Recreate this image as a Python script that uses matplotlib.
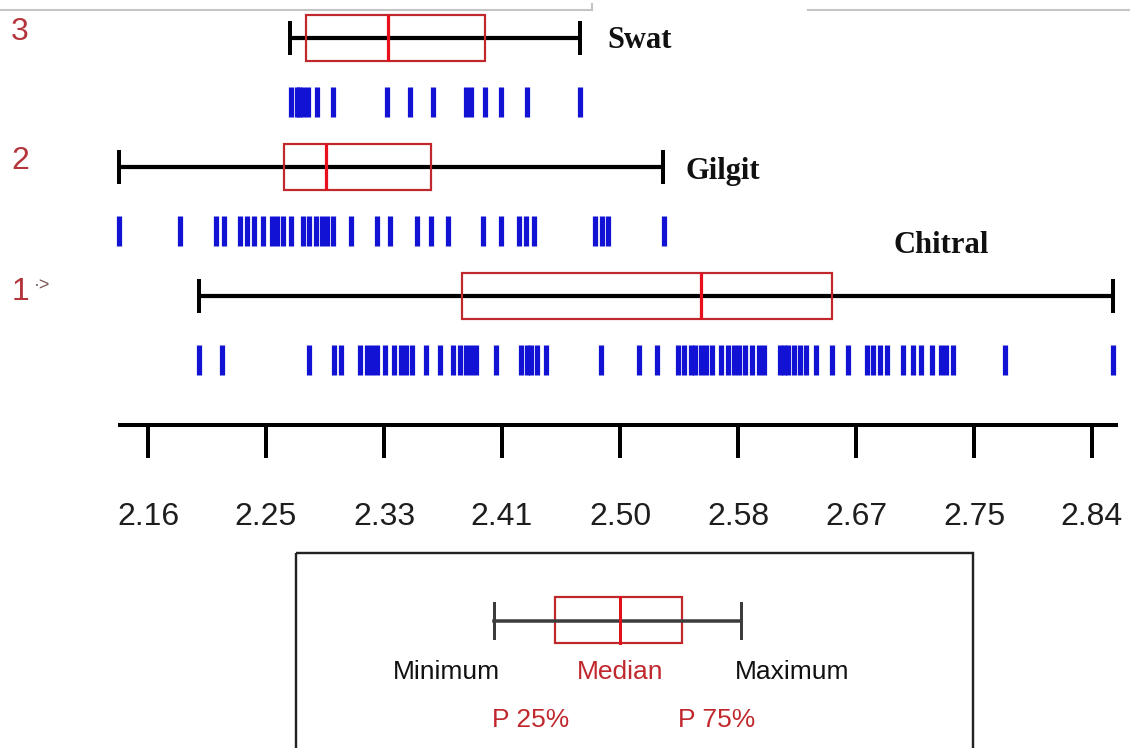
import matplotlib
matplotlib.use("Agg")
import matplotlib.pyplot as plt
from matplotlib.patches import Rectangle
import numpy as np

# ---------------- data ----------------
groups = ["Chitral", "Gilgit", "Swat"]
group_ids = ["1", "2", "3"]

# five-number summaries: min, P25, median, P75, max
chitral_stats = [2.197, 2.386, 2.558, 2.653, 2.855]
gilgit_stats = [2.139, 2.258, 2.288, 2.364, 2.531]
swat_stats = [2.262, 2.274, 2.333, 2.403, 2.471]

chitral_values = [2.197, 2.213, 2.276, 2.294, 2.299, 2.313, 2.318, 2.321, 2.325, 2.331,
                  2.337, 2.342, 2.346, 2.350, 2.360, 2.370, 2.380, 2.385, 2.389, 2.393,
                  2.396, 2.411, 2.429, 2.433, 2.436, 2.440, 2.447, 2.486, 2.514, 2.527,
                  2.542, 2.546, 2.551, 2.554, 2.558, 2.562, 2.566, 2.573, 2.578, 2.582,
                  2.586, 2.590, 2.595, 2.600, 2.604, 2.615, 2.618, 2.621, 2.625, 2.630,
                  2.634, 2.641, 2.653, 2.664, 2.678, 2.682, 2.687, 2.692, 2.704, 2.711,
                  2.717, 2.725, 2.731, 2.735, 2.740, 2.777, 2.855]
gilgit_values = [2.139, 2.183, 2.209, 2.215, 2.226, 2.231, 2.236, 2.243, 2.249, 2.253,
                 2.257, 2.263, 2.272, 2.276, 2.281, 2.285, 2.289, 2.293, 2.306, 2.325,
                 2.334, 2.354, 2.364, 2.376, 2.401, 2.414, 2.427, 2.432, 2.438, 2.482,
                 2.487, 2.491, 2.532]
swat_values = [2.263, 2.267, 2.269, 2.272, 2.275, 2.282, 2.293, 2.332, 2.349, 2.365,
               2.389, 2.393, 2.403, 2.414, 2.433, 2.471]

tick_values = [2.16, 2.245, 2.33, 2.415, 2.50, 2.585, 2.67, 2.755, 2.84]
tick_labels = ["2.16", "2.25", "2.33", "2.41", "2.50", "2.58", "2.67", "2.75", "2.84"]

legend_labels = ["Minimum", "Median", "Maximum", "P 25%", "P 75%"]

# ---------------- figure ----------------
W, H = 1130, 748
fig = plt.figure(figsize=(W / 100, H / 100), dpi=100)
fig.patch.set_facecolor("white")

PX = 0.72  # points per pixel at dpi 100
SANS = ["Liberation Sans", "DejaVu Sans"]
SERIF = ["Liberation Serif", "DejaVu Serif"]

# main data axes: top part of the figure, bottom spine = value axis
axis_y = 425
ax = fig.add_axes([0, 1 - axis_y / H, 1, axis_y / H])
k = 0.085 / 118.0
x_left = 2.16 - 148 * k
x_right = 2.16 + (W - 148) * k
ax.set_xlim(x_left, x_right)
ax.set_ylim(axis_y, 0)
ax.set_facecolor("none")
for s in ["top", "left", "right"]:
    ax.spines[s].set_visible(False)
ax.spines["bottom"].set_linewidth(4 * PX)
ax.spines["bottom"].set_color("black")
ax.spines["bottom"].set_bounds(2.16 - 28 * k, 2.16 + 968 * k)
ax.set_yticks([])
ax.set_xticks(tick_values)
ax.set_xticklabels(tick_labels, family=SANS, fontsize=23, color="#1e1e1e")
ax.tick_params(axis="x", direction="out", length=33 * PX, width=4 * PX,
               color="black", pad=32)

stats_list = [chitral_stats, gilgit_stats, swat_stats]
values_list = [chitral_values, gilgit_values, swat_values]
box_centers = [296, 167, 38]
rug_centers = [360, 231, 102]
box_half = 23
cap_half = 17
rug_half = 15

for stats, vals, yc, yr in zip(stats_list, values_list, box_centers, rug_centers):
    mn, q1, med, q3, mx = stats
    ax.hlines(yc, mn, mx, color="black", lw=4.2 * PX, zorder=2)
    ax.vlines([mn, mx], yc - cap_half, yc + cap_half, color="black", lw=4 * PX, zorder=2)
    ax.add_patch(Rectangle((q1, yc - box_half), q3 - q1, 2 * box_half, fill=False,
                           edgecolor="#c0282d", lw=2.0 * PX * 1.1, zorder=3))
    ax.vlines(med, yc - box_half, yc + box_half, color="#e8101c", lw=3.2 * PX, zorder=4)
    ax.vlines(vals, yr - rug_half, yr + rug_half, color="#1212d4", lw=5.2 * PX, zorder=2)

# overlay axes in pixel coordinates for labels and the legend key
ov = fig.add_axes([0, 0, 1, 1])
ov.set_xlim(0, W)
ov.set_ylim(H, 0)
ov.axis("off")
ov.set_facecolor("none")

# thin grey lines at top
ov.plot([0, 592], [10, 10], color="#c4c4c4", lw=1.5)
ov.plot([592, 592], [4, 10], color="#c4c4c4", lw=1.5)
ov.plot([808, W], [10, 10], color="#c4c4c4", lw=1.5)

# group ids on the left
id_color = "#b4363c"
ov.text(20, 32, group_ids[2], color=id_color, fontsize=23, family=SANS,
        ha="center", va="center")
ov.text(20, 161, group_ids[1], color=id_color, fontsize=23, family=SANS,
        ha="center", va="center")
ov.text(20, 292, group_ids[0], color=id_color, fontsize=23, family=SANS,
        ha="center", va="center")
ov.text(34, 286, "·>", color="#7a5a5a", fontsize=13, family=SANS,
        ha="left", va="center")

# group names
ov.text(640, 40, groups[2], fontsize=22, family=SERIF, weight="bold",
        ha="center", va="center", color="#111111")
ov.text(723, 171, groups[1], fontsize=22, family=SERIF, weight="bold",
        ha="center", va="center", color="#111111")
ov.text(941, 245, groups[0], fontsize=22, family=SERIF, weight="bold",
        ha="center", va="center", color="#111111")

# legend key
ov.add_patch(Rectangle((296, 553), 677, 200, fill=False, edgecolor="#222222",
                       lw=2 * PX * 1.2))
ov.plot([494, 741], [621, 621], color="#3c3c3c", lw=3.5 * PX)
ov.plot([494, 494], [603, 638], color="#3c3c3c", lw=3 * PX)
ov.plot([741, 741], [603, 638], color="#3c3c3c", lw=3 * PX)
ov.add_patch(Rectangle((555, 597), 127, 46, fill=False, edgecolor="#c0282d",
                       lw=2 * PX * 1.1))
ov.plot([620, 620], [597, 643], color="#e0101c", lw=3 * PX)
lfs = 19
ov.text(446, 672, legend_labels[0], fontsize=lfs, family=SANS, color="#111111",
        ha="center", va="center")
ov.text(620, 672, legend_labels[1], fontsize=lfs, family=SANS, color="#c0282d",
        ha="center", va="center")
ov.text(792, 672, legend_labels[2], fontsize=lfs, family=SANS, color="#111111",
        ha="center", va="center")
ov.text(531, 720, legend_labels[3], fontsize=lfs, family=SANS, color="#c0282d",
        ha="center", va="center")
ov.text(717, 720, legend_labels[4], fontsize=lfs, family=SANS, color="#c0282d",
        ha="center", va="center")

fig.savefig("out.png", dpi=100, facecolor="white")
